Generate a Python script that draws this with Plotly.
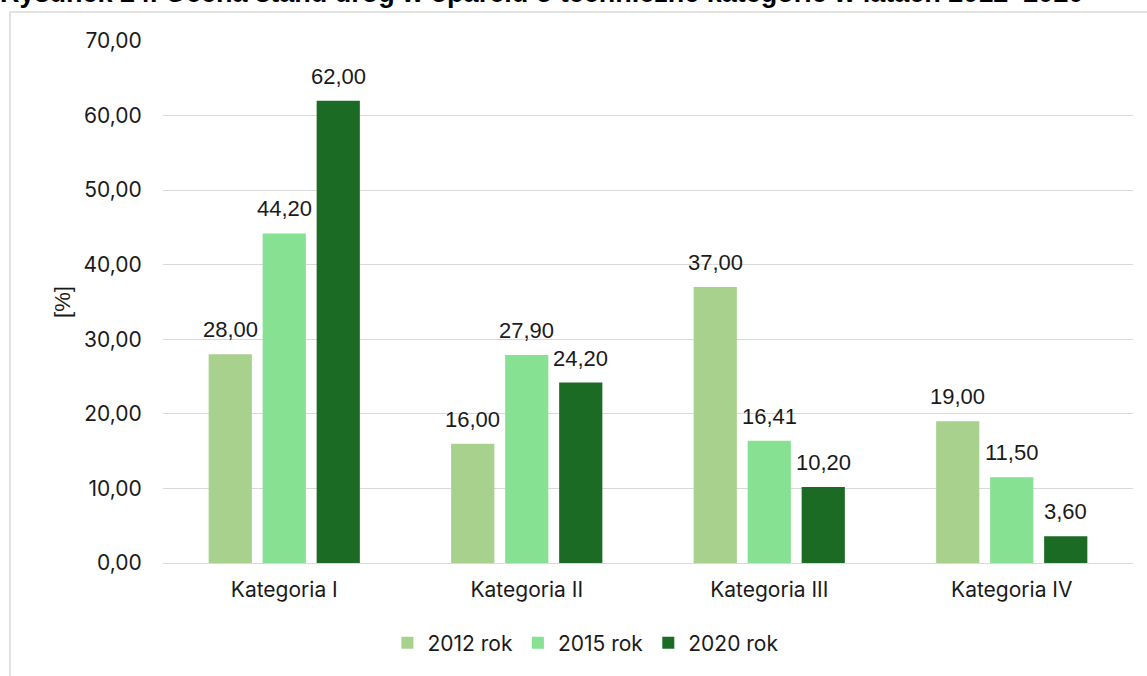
import plotly.graph_objects as go

categories = ["Kategoria I", "Kategoria II", "Kategoria III", "Kategoria IV"]
series_names = ["2012 rok", "2015 rok", "2020 rok"]
values_2012 = [28.00, 16.00, 37.00, 19.00]
values_2015 = [44.20, 27.90, 16.41, 11.50]
values_2020 = [62.00, 24.20, 10.20, 3.60]
y_ticks = [0, 10, 20, 30, 40, 50, 60, 70]
title_text = "Rysunek 24. Ocena stanu dróg w oparciu o techniczne kategorie w latach 2012–2020"

colors = ["#A9D18E", "#86E192", "#1B6B24"]
series = [values_2012, values_2015, values_2020]

W, H = 1147, 676
ml, mr, mt, mb = 163, 14, 41, 113
plot_h = H - mt - mb
plot_w = W - ml - mr

fig = go.Figure()
for name, vals, col in zip(series_names, series, colors):
    fig.add_trace(go.Bar(x=categories, y=vals, name=name, marker=dict(color=col, line=dict(width=0))))

def fmt(v):
    return f"{v:.2f}".replace(".", ",")

pitch = plot_w / len(categories) * (1 - 0.332) / 3
annotations = []
for j, vals in enumerate(series):
    for c, v in zip(categories, vals):
        annotations.append(dict(
            x=c, y=v, xref="x", yref="y", text=fmt(v), showarrow=False,
            xshift=(j - 1) * pitch, yshift=10, yanchor="bottom",
            font=dict(family="Liberation Sans, Arial, sans-serif", size=22, color="#1a1a1a"),
        ))

# title, partly cut at top (as in the reference)
annotations.append(dict(
    x=-(ml + 2) / plot_w, y=1 + (mt - 10) / plot_h, xref="paper", yref="paper",
    xanchor="left", yanchor="bottom", text="<b>" + title_text + "</b>", showarrow=False,
    font=dict(family="Liberation Sans, Arial, sans-serif", size=27, color="#000000"),
))

fig.update_layout(
    width=W, height=H,
    margin=dict(l=ml, r=mr, t=mt, b=mb, autoexpand=False),
    paper_bgcolor="white", plot_bgcolor="white",
    barmode="group", bargap=0.332, bargroupgap=0.2,
    separators=", ",
    showlegend=True,
    legend=dict(orientation="h", x=0.436, xanchor="center", y=-(643 - 563) / plot_h, yanchor="middle",
                font=dict(family="Inter, Liberation Sans, sans-serif", size=21, color="#1a1a1a"),
                itemwidth=30, traceorder="normal"),
    annotations=annotations,
    shapes=[dict(type="rect", xref="paper", yref="paper",
                 x0=-(ml - 10) / plot_w, x1=1 + (mr + 20) / plot_w,
                 y0=-(mb + 20) / plot_h, y1=1 + (mt - 12) / plot_h,
                 line=dict(color="#D9D9D9", width=1.5), layer="below")],
    yaxis=dict(range=[0, 70], tickvals=y_ticks, tickformat=".2f",
               showgrid=True, gridcolor="#D9D9D9", gridwidth=1.3,
               zeroline=True, zerolinecolor="#D9D9D9", zerolinewidth=1.3,
               ticks="outside", ticklen=16, tickcolor="rgba(0,0,0,0)",
               tickfont=dict(family="Inter, Liberation Sans, sans-serif", size=21, color="#1a1a1a"),
               title=dict(text="[%]", standoff=6,
                          font=dict(family="Liberation Sans, Arial, sans-serif", size=22, color="#1a1a1a")),
               fixedrange=True),
    xaxis=dict(showgrid=False, showline=False, ticks="outside", ticklen=8, tickcolor="rgba(0,0,0,0)",
               tickfont=dict(family="Inter, Liberation Sans, sans-serif", size=21, color="#1a1a1a"),
               fixedrange=True),
)

fig.write_html("out.html", config={"displayModeBar": False},
               post_script="document.body.style.margin='0';document.body.style.overflow='hidden';")
